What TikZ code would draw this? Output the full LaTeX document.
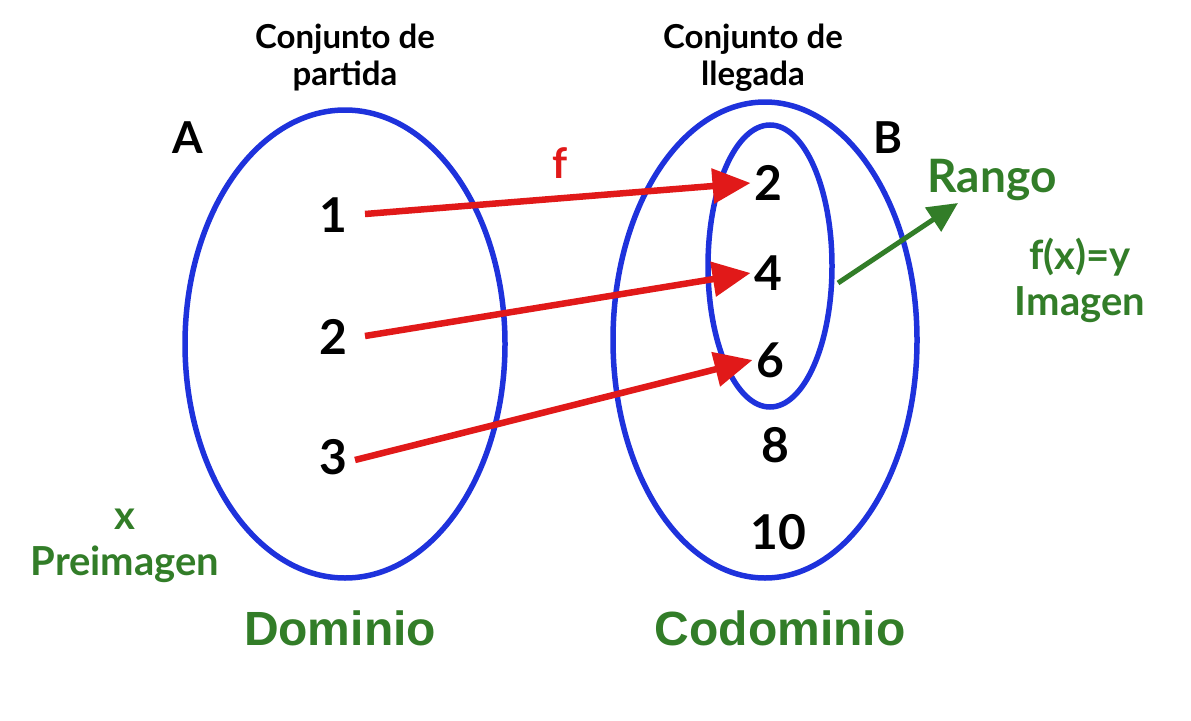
\documentclass[tikz,border=0pt]{standalone}
\usepackage{fontspec}
\setmainfont{Lato}
\newfontfamily\arialf[BoldFont={Liberation Sans Bold}]{Liberation Sans}
\usetikzlibrary{arrows.meta}
\definecolor{eblue}{RGB}{30,50,220}
\definecolor{ered}{RGB}{225,25,25}
\definecolor{egreen}{RGB}{50,125,40}
\begin{document}
\begin{tikzpicture}[x=1pt,y=-1pt,
  ell/.style={draw=eblue,line width=5.5pt},
  num/.style={font=\fontsize{48}{50}\selectfont\bfseries},
  top/.style={font=\fontsize{33}{37}\selectfont\bfseries,align=center},
  big/.style={font=\arialf\bfseries\fontsize{48}{50}\selectfont,text=egreen},
  gl/.style={font=\fontsize{40}{46}\selectfont\bfseries,text=egreen,align=center},
  rarr/.style={draw=ered,line width=6.5pt,-{Triangle[length=38pt,width=34pt]}}]
\useasboundingbox (0,0) rectangle (1191,720);
\draw[ell] (345,344) ellipse [x radius=160,y radius=234];
\draw[ell] (765,340) ellipse [x radius=152,y radius=238];
\draw[ell] (770,266) ellipse [x radius=62,y radius=141];
\node[num] (a1) at (333,215) {1};
\node[num] (a2) at (333,337) {2};
\node[num] (a3) at (333,457) {3};
\node[num] (b2) at (768,183) {2};
\node[num] (b4) at (768,273) {4};
\node[num] (b6) at (770,360) {6};
\node[num] (b8) at (775,445) {8};
\node[num] (b10) at (778,532) {10};
\coordinate (s1) at (365,214);
\coordinate (s2) at (365,336);
\coordinate (s3) at (355,460);
\draw[rarr] (s1) -- (b2.west);
\draw[rarr] (s2) -- (b4.west);
\draw[rarr] (s3) -- (b6.west);
\node[font=\fontsize{42}{44}\selectfont\bfseries,text=ered] (f) at (560,163) {f};
\node[font=\fontsize{44}{46}\selectfont\bfseries] (A) at (188,138) {A};
\node[font=\fontsize{44}{46}\selectfont\bfseries] (B) at (888,138) {B};
\node[top] (t1) at (345,58) {Conjunto de\\partida};
\node[top] (t2) at (753,58) {Conjunto de\\llegada};
\coordinate (g0) at (838,283);
\node[font=\fontsize{46}{50}\selectfont\bfseries,text=egreen] (rango) at (992,180) {Rango};
\coordinate (g1) at (958,203);
\draw[draw=egreen,line width=5pt,-{Triangle[length=30pt,width=28pt]}] (g0) -- (g1);
\node[gl] (img) at (1080,280) {f(x)=y\\Imagen};
\node[gl] (pre) at (125,546) {x\\Preimagen};
\node[big] (dom) at (340,628) {Dominio};
\node[big] (cod) at (780,628) {Codominio};
\end{tikzpicture}
\end{document}
